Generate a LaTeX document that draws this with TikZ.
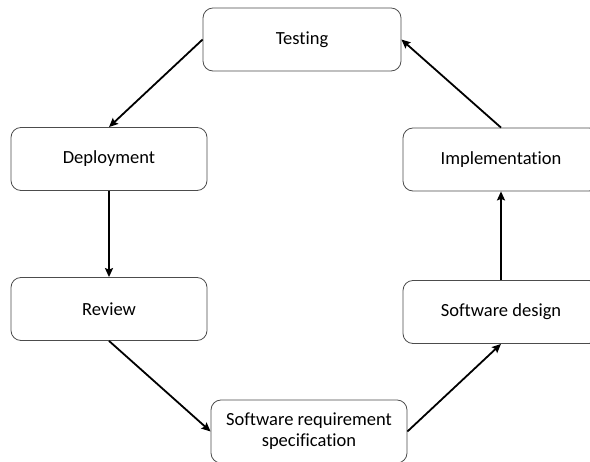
\documentclass[tikz,border=0pt]{standalone}
\usepackage{fontspec}
\setmainfont{Carlito}[RawFeature={-liga}]
\usetikzlibrary{arrows.meta, positioning}

\begin{document}
\begin{tikzpicture}
	[
		x=1pt, y=-1pt,
		phase/.style={
				rectangle,
				rounded corners=3.5mm,
				minimum width=196pt,
				minimum height=63pt,
				draw=black!70,
				line width=0.8pt,
				fill=white,
				align=center,
				font=\fontsize{18.5}{21}\selectfont,
			},
		flow/.style={
				-{Stealth[length=9pt, width=8pt, inset=1.5pt]},
				line width=1.8pt,
			},
	]
	\useasboundingbox (0,0) rectangle (590,462);
	\clip (0,0) rectangle (590,462);

	\node [phase, minimum width=198pt] (testing) at (302,39.5) {Testing};
	\node [phase] (deploy) at (109,159) {Deployment};
	\node [phase] (review) at (109,309) {Review};
	\node [phase] (srs) at (309,431.5) {Software requirement\\specification};
	\node [phase] (design) at (501,312) {Software design};
	\node [phase] (impl) at (501,159.5) {Implementation};

	\draw [flow] (testing.west) -- (deploy.north);
	\draw [flow] (deploy.south) -- (review.north);
	\draw [flow] (review.south) -- (srs.west);
	\draw [flow] (srs.east) -- (design.south);
	\draw [flow] (design.north) -- (impl.south);
	\draw [flow] (impl.north) -- (testing.east);
\end{tikzpicture}
\end{document}
